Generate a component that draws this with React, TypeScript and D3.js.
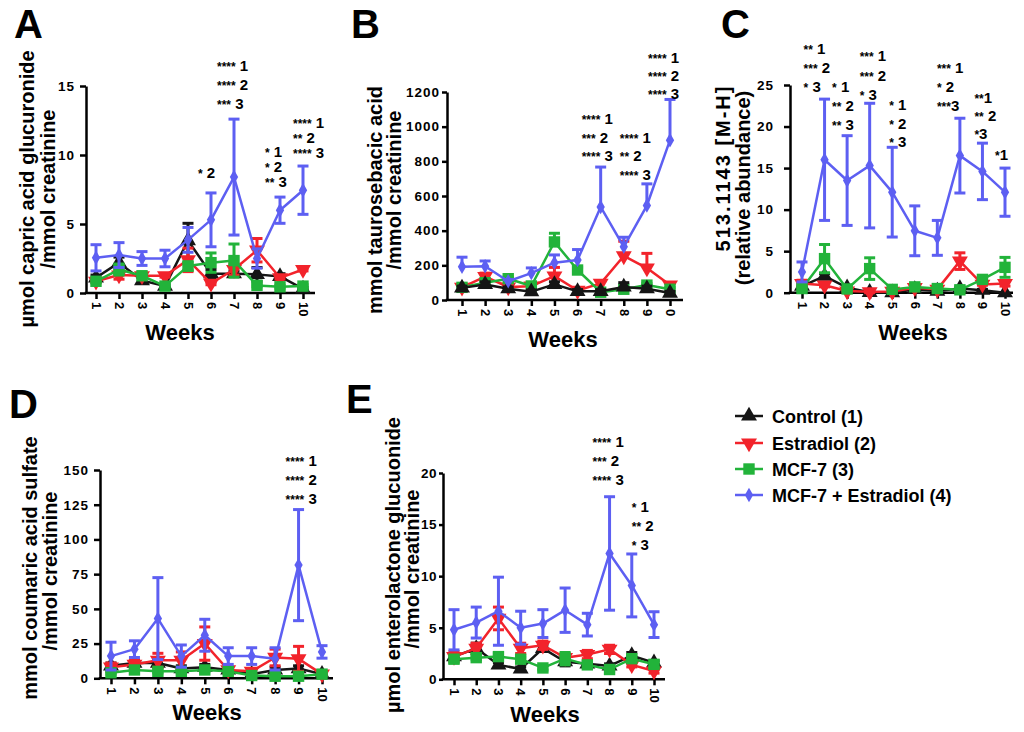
import React, { useEffect, useRef } from "react";
import * as d3 from "d3";

const weeks = [1, 2, 3, 4, 5, 6, 7, 8, 9, 10];
const weekLabels = ["1", "2", "3", "4", "5", "6", "7", "8", "9", "10"];
const weekLabelsB = ["1", "2", "3", "4", "5", "6", "7", "8", "9", "0"];

const groups = ["Control (1)", "Estradiol (2)", "MCF-7 (3)", "MCF-7 + Estradiol (4)"];

// A: capric acid glucuronide
const aControl = [1.1, 2.2, 0.9, 0.5, 3.8, 1.4, 1.4, 1.35, 1.2, 0.3];
const aControlErr = [0.2, 0.4, 0.2, 0.1, 1.25, 0.3, 0.2, 0.5, 0.2, 0.1];
const aEstradiol = [0.85, 1.3, 1.25, 1.25, 2.4, 0.7, 1.7, 3.1, 1.1, 1.7];
const aEstradiolErr = [0.1, 0.3, 0.1, 0.1, 0.85, 0.1, 0.4, 0.85, 0.1, 0.1];
const aMcf7 = [0.85, 1.7, 1.25, 0.5, 1.95, 2.2, 2.35, 0.55, 0.45, 0.5];
const aMcf7Err = [0.1, 0.4, 0.1, 0.1, 0.3, 0.7, 1.2, 0.1, 0.1, 0.1];
const aMcf7E = [2.55, 2.75, 2.5, 2.5, 3.85, 5.3, 8.4, 2.5, 6.0, 7.45];
const aMcf7EErr = [0.95, 0.9, 0.5, 0.6, 0.9, 1.95, 4.2, 0.7, 0.95, 1.75];
const aTicks = [0, 5, 10, 15];

// B: taurosebacic acid (upper bars only)
const bControl = [70, 90, 65, 48, 90, 50, 50, 75, 65, 40];
const bControlErr = [10, 15, 10, 10, 15, 10, 10, 25, 15, 10];
const bEstradiol = [73, 135, 75, 80, 138, 55, 96, 254, 184, 86];
const bEstradiolErr = [10, 20, 10, 10, 50, 10, 15, 85, 85, 15];
const bMcf7 = [73, 100, 123, 81, 335, 173, 45, 62, 86, 62];
const bMcf7Err = [10, 10, 10, 10, 50, 15, 10, 10, 10, 10];
const bMcf7E = [192, 195, 108, 155, 215, 231, 537, 307, 545, 922];
const bMcf7EErr = [55, 30, 10, 30, 45, 60, 230, 55, 125, 235];
const bTicks = [0, 200, 400, 600, 800, 1000, 1200];

// C: 513.1143 [M-H]
const cControl = [0.8, 2.0, 0.6, 0.05, 0, 0.4, 0.2, 0.5, 0.3, 0];
const cControlErr = [0.2, 0.3, 0.1, 0.05, 0, 0.1, 0.1, 0.2, 0.1, 0];
const cEstradiol = [1.1, 0.9, 0.2, 0.1, 0.15, 0.6, 0.4, 3.8, 1.0, 1.1];
const cEstradiolErr = [0.4, 0.2, 0.1, 0.1, 0.1, 0.1, 0.1, 1.0, 0.1, 0.3];
const cMcf7 = [0.5, 4.1, 0.45, 2.9, 0.4, 0.7, 0.5, 0.35, 1.6, 3.05];
const cMcf7Err = [0.2, 1.7, 0.1, 1.3, 0.1, 0.1, 0.1, 0.1, 0.2, 1.2];
const cMcf7E = [2.5, 16.0, 13.5, 15.3, 12.1, 7.45, 6.6, 16.5, 14.6, 12.1];
const cMcf7EErr = [1.2, 7.3, 5.4, 7.5, 5.4, 3.0, 2.1, 4.5, 3.4, 2.9];
const cTicks = [0, 5, 10, 15, 20, 25];

// D: coumaric acid sulfate
const dControl = [9, 11, 11, 7, 8, 6, 3, 6, 7, 3];
const dControlErr = [2, 2, 3, 2, 2, 1, 1, 2, 2, 1];
const dEstradiol = [8, 10, 13, 13, 25, 6, 5, 15, 14, 3];
const dEstradiolErr = [3, 3, 5, 6, 12, 2, 2, 6, 9, 1];
const dMcf7 = [4, 6, 5, 5, 6, 5, 2, 1.5, 1.5, 3];
const dMcf7Err = [1, 1, 1, 1, 1, 1, 1, 1, 1, 1];
const dMcf7E = [16, 21, 43, 16, 31, 16, 16, 14, 81.5, 19];
const dMcf7EErr = [10, 6, 29.5, 8, 11.5, 6, 6, 8, 40, 4.5];
const dTicks = [0, 25, 50, 75, 100, 125, 150];

// E: enterolactone glucuonide
const eControl = [2.2, 3.0, 1.4, 1.0, 3.0, 1.7, 1.5, 1.3, 2.3, 1.6];
const eControlErr = [0.3, 0.5, 0.2, 0.2, 0.3, 0.4, 0.2, 0.2, 0.3, 0.2];
const eEstradiol = [2.2, 3.0, 5.9, 3.0, 3.3, 2.1, 2.4, 2.9, 1.4, 0.8];
const eEstradiolErr = [0.5, 0.5, 1.1, 0.5, 0.4, 0.4, 0.4, 0.4, 0.2, 0.2];
const eMcf7 = [1.95, 2.1, 2.2, 1.95, 1.1, 2.0, 1.4, 0.95, 2.0, 1.45];
const eMcf7Err = [0.3, 0.2, 0.3, 0.2, 0.2, 0.6, 0.2, 0.2, 0.3, 0.3];
const eMcf7E = [4.8, 5.5, 6.6, 5.0, 5.4, 6.7, 5.3, 12.2, 9.1, 5.3];
const eMcf7EErr = [1.95, 1.5, 3.3, 1.6, 1.35, 2.15, 1.1, 5.5, 3.05, 1.25];
const eTicks = [0, 5, 10, 15, 20];

// significance notes: week, value of first line (in axis units), text lines
const notesA = [
  { week: 6, value: 8.8, lines: ["* 2"] },
  { week: 7, value: 16.5, lines: ["**** 1", "**** 2", "*** 3"] },
  { week: 9, value: 10.3, lines: ["* 1", "* 2", "** 3"] },
  { week: 10, value: 12.4, lines: ["**** 1", "** 2", "**** 3"] },
];
const notesB = [
  { week: 7, value: 1048, lines: ["**** 1", "*** 2", "**** 3"] },
  { week: 8, value: 942, lines: ["**** 1", "** 2", "**** 3"] },
  { week: 10, value: 1404, lines: ["**** 1", "**** 2", "**** 3"] },
];
const notesC = [
  { week: 2, value: 29.4, lines: ["** 1", "*** 2", "* 3"] },
  { week: 3, value: 24.9, lines: ["* 1", "** 2", "** 3"] },
  { week: 4, value: 28.6, lines: ["*** 1", "*** 2", "* 3"] },
  { week: 5, value: 22.7, lines: ["* 1", "* 2", "* 3"] },
  { week: 8, value: 27.2, lines: ["*** 1", "* 2", "***3"] },
  { week: 9, value: 23.6, lines: ["**1", "** 2", "*3"] },
  { week: 10, value: 16.7, lines: ["*1"] },
];
const notesD = [{ week: 9, value: 157, lines: ["**** 1", "**** 2", "**** 3"] }];
const notesE = [
  { week: 8, value: 23.1, lines: ["**** 1", "*** 2", "**** 3"] },
  { week: 9, value: 16.8, lines: ["* 1", "** 2", "* 3"] },
];

const colors = ["#151515", "#f2232b", "#22b33a", "#5d5ff2"];
const FONT = "'Liberation Sans', Arial, Helvetica, sans-serif";

const panels = [
  {
    letter: "A", lx: 14, ly: 38, axisX: 86, y0: 293, yTop: 86, x1: 96, x10: 303, axisEnd: 315,
    ticks: aTicks, labels: weekLabels, tickSize: 6, tickPad: 5, tickLS: 1,
    title: ["µmol capric acid glucuronide", "/mmol creatinine"], titleX: [34, 55], titleY: [189, 189], titleLS: [0, 0],
    weeksX: 180, weeksY: 340,
    series: [aControl, aEstradiol, aMcf7, aMcf7E], errs: [aControlErr, aEstradiolErr, aMcf7Err, aMcf7EErr],
    notes: notesA, noteDx: [-13, -17, -15, -10], noteGap: [19, 19, 15, 15], upOnly: false, order: [0, 1, 2, 3],
  },
  {
    letter: "B", lx: 351, ly: 38, axisX: 447, y0: 300, yTop: 92, x1: 462, x10: 670, axisEnd: 683,
    ticks: bTicks, labels: weekLabelsB, tickSize: 5, tickPad: 2, tickLS: 1,
    title: ["mmol taurosebacic acid", "/mmol creatinine"], titleX: [382, 401], titleY: [200, 190], titleLS: [0, 0],
    weeksX: 563, weeksY: 347,
    series: [bControl, bEstradiol, bMcf7, bMcf7E], errs: [bControlErr, bEstradiolErr, bMcf7Err, bMcf7EErr],
    notes: notesB, noteDx: [-19, -4, -22], noteGap: [18.4, 18.4, 18.4], upOnly: true, order: [1, 2, 0, 3],
  },
  {
    letter: "C", lx: 721, ly: 38, axisX: 790, y0: 292.7, yTop: 85, x1: 802, x10: 1005, axisEnd: 1013,
    ticks: cTicks, labels: weekLabels, tickSize: 6, tickPad: 10, tickLS: 1,
    title: ["513.1143 [M-H]", "(relative abundance)"], titleX: [730, 750], titleY: [168, 188], titleLS: [2, 0],
    weeksX: 913, weeksY: 340,
    series: [cControl, cEstradiol, cMcf7, cMcf7E], errs: [cControlErr, cEstradiolErr, cMcf7Err, cMcf7EErr],
    notes: notesC, noteDx: [-21, -15, -10, -3, -23, -8, -10], noteGap: [19, 19, 19.5, 18.5, 19, 18, 19], upOnly: false, order: [0, 1, 2, 3],
  },
  {
    letter: "D", lx: 9, ly: 418, axisX: 100, y0: 678.3, yTop: 470, x1: 111, x10: 322, axisEnd: 333,
    ticks: dTicks, labels: weekLabels, tickSize: 6, tickPad: 5, tickLS: 1,
    title: ["mmol coumaric acid sulfate", "/mmol creatinine"], titleX: [37, 57], titleY: [568, 571], titleLS: [0, 0],
    weeksX: 207, weeksY: 720,
    series: [dControl, dEstradiol, dMcf7, dMcf7E], errs: [dControlErr, dEstradiolErr, dMcf7Err, dMcf7EErr],
    notes: notesD, noteDx: [-13], noteGap: [19], upOnly: false, order: [0, 1, 2, 3],
  },
  {
    letter: "E", lx: 346, ly: 413, axisX: 443, y0: 679.3, yTop: 473, x1: 454, x10: 654, axisEnd: 665,
    ticks: eTicks, labels: weekLabels, tickSize: 4, tickPad: 2, tickLS: 0.5,
    title: ["µmol enterolactone glucuonide", "/mmol creatinine"], titleX: [400, 419], titleY: [565, 569], titleLS: [0, 0],
    weeksX: 545, weeksY: 722,
    series: [eControl, eEstradiol, eMcf7, eMcf7E], errs: [eControlErr, eEstradiolErr, eMcf7Err, eMcf7EErr],
    notes: notesE, noteDx: [-17, 0], noteGap: [19, 19], upOnly: false, order: [0, 1, 2, 3],
  },
];

function markerPath(i) {
  if (i === 0) return d3.symbol(d3.symbolTriangle, 110)();
  if (i === 1) return d3.symbol(d3.symbolTriangle, 110)();
  if (i === 2) return d3.symbol(d3.symbolSquare, 130)();
  return d3.symbol(d3.symbolDiamond, 60)();
}

function addMarker(g, i, cx, cy) {
  g.append("path")
    .attr("d", markerPath(i))
    .attr("transform", `translate(${cx},${cy})${i === 1 ? " rotate(180)" : ""}`)
    .attr("fill", colors[i]);
}

function drawPanel(root, p) {
  const g = root.append("g");
  const x = d3.scaleLinear().domain([1, 10]).range([p.x1, p.x10]);
  const maxVal = p.ticks[p.ticks.length - 1];
  const y = d3.scaleLinear().domain([0, maxVal]).range([p.y0, p.yTop]);

  g.append("text").attr("x", p.lx).attr("y", p.ly).attr("font-size", 40).attr("font-weight", "bold").text(p.letter);

  p.title.forEach((t, i) => {
    g.append("text")
      .attr("transform", `translate(${p.titleX[i]},${p.titleY[i]}) rotate(-90)`)
      .attr("text-anchor", "middle")
      .attr("font-size", 20)
      .attr("font-weight", "bold")
      .attr("letter-spacing", p.titleLS[i])
      .text(t);
  });

  g.append("text")
    .attr("x", p.weeksX).attr("y", p.weeksY)
    .attr("text-anchor", "middle").attr("font-size", 22).attr("font-weight", "bold")
    .text("Weeks");

  // y axis
  const ya = g.append("g")
    .attr("transform", `translate(${p.axisX},0)`)
    .call(d3.axisLeft(y).tickValues(p.ticks).tickSize(p.tickSize).tickPadding(p.tickPad).tickSizeOuter(0).tickFormat(d3.format("d")));
  ya.attr("font-family", FONT).attr("font-size", 13.5).attr("font-weight", "bold");
  ya.select(".domain").attr("stroke-width", 2.5);
  ya.selectAll(".tick line").attr("stroke-width", 2.5);
  ya.selectAll(".tick text").attr("letter-spacing", p.tickLS);

  // x axis
  const xa = g.append("g")
    .attr("transform", `translate(0,${p.y0})`)
    .call(d3.axisBottom(x).tickValues(weeks).tickSize(6).tickFormat((d, i) => p.labels[i]));
  xa.attr("font-family", FONT).attr("font-size", 13).attr("font-weight", "bold");
  xa.select(".domain").remove();
  xa.selectAll(".tick line").attr("stroke-width", 2.5);
  xa.selectAll(".tick text")
    .attr("transform", "rotate(90)")
    .attr("x", 9).attr("y", 0).attr("dy", "0.36em")
    .attr("text-anchor", "start");
  g.append("line")
    .attr("x1", p.axisX - 1.25).attr("x2", p.axisEnd)
    .attr("y1", p.y0).attr("y2", p.y0)
    .attr("stroke", "#000").attr("stroke-width", 2.5);

  const line = d3.line().x((d, i) => x(weeks[i])).y((d) => y(d));

  p.order.forEach((s) => {
    const vals = p.series[s];
    const errs = p.errs[s];
    const sg = g.append("g");
    // error bars
    vals.forEach((v, i) => {
      const e = errs[i];
      if (!e) return;
      const cx = x(weeks[i]);
      const hi = y(v + e);
      const lo = p.upOnly ? y(v) : y(Math.max(0, v - e));
      sg.append("line").attr("x1", cx).attr("x2", cx).attr("y1", lo).attr("y2", hi)
        .attr("stroke", colors[s]).attr("stroke-width", 3);
      sg.append("line").attr("x1", cx - 5.5).attr("x2", cx + 5.5).attr("y1", hi).attr("y2", hi)
        .attr("stroke", colors[s]).attr("stroke-width", 3);
      if (!p.upOnly) {
        sg.append("line").attr("x1", cx - 5.5).attr("x2", cx + 5.5).attr("y1", lo).attr("y2", lo)
          .attr("stroke", colors[s]).attr("stroke-width", 3);
      }
    });
    sg.append("path").attr("d", line(vals)).attr("fill", "none")
      .attr("stroke", colors[s]).attr("stroke-width", 2.5).attr("stroke-linejoin", "round");
    vals.forEach((v, i) => addMarker(sg, s, x(weeks[i]), y(v)));
  });

  // significance notes
  p.notes.forEach((n, k) => {
    n.lines.forEach((ln, j) => {
      const m = ln.match(/^(\*+)(.*)$/);
      const t = g.append("text")
        .attr("x", x(n.week) + p.noteDx[k])
        .attr("y", y(n.value) + 6 + j * p.noteGap[k])
        .attr("font-weight", "bold")
        .style("white-space", "pre");
      t.append("tspan").attr("font-size", 12).text(m ? m[1] : "");
      t.append("tspan").attr("font-size", 15).text(m ? m[2] : ln);
    });
  });
}

function drawLegend(root) {
  const rows = [416, 443, 469, 495];
  const g = root.append("g");
  groups.forEach((name, i) => {
    g.append("line").attr("x1", 735).attr("x2", 763).attr("y1", rows[i]).attr("y2", rows[i])
      .attr("stroke", colors[i]).attr("stroke-width", 2.5);
    addMarker(g, i, 749, rows[i]);
    g.append("text").attr("x", 772).attr("y", rows[i] + 6.5)
      .attr("font-size", 18).attr("font-weight", "bold").text(name);
  });
}

export default function App() {
  const ref = useRef(null);

  useEffect(() => {
    const svg = d3.select(ref.current);
    svg.selectAll("*").remove();
    const root = svg.append("g").attr("font-family", FONT).attr("fill", "#000");
    panels.forEach((p) => drawPanel(root, p));
    drawLegend(root);
  }, []);

  return (
    <svg
      ref={ref}
      width={1024}
      height={732}
      style={{ position: "absolute", left: 0, top: 0, background: "#fff" }}
    />
  );
}
